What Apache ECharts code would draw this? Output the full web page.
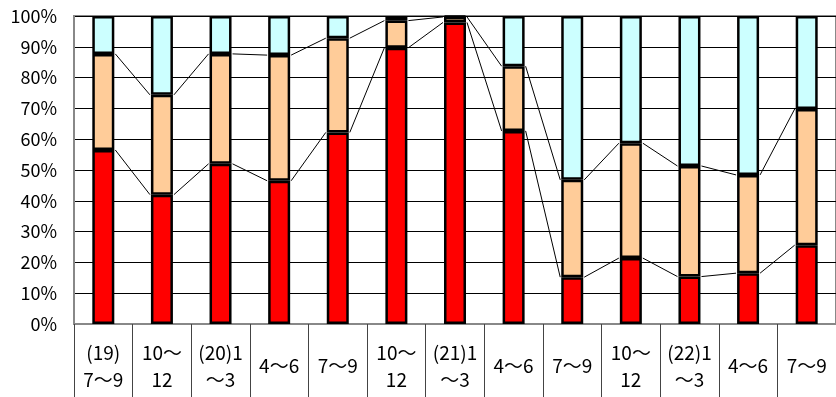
<!DOCTYPE html>
<html>
<head>
<meta charset="utf-8">
<script src="https://cdn.jsdelivr.net/npm/echarts@6/dist/echarts.min.js"></script>
<style>
  html, body { margin: 0; padding: 0; background: #fff; }
  #chart { width: 836px; height: 397px; }
</style>
</head>
<body>
<div id="chart"></div>
<script>
// 期間（カテゴリ）
var categories = ['(19)\n7～9', '10～\n12', '(20)1\n～3', '4～6', '7～9', '10～\n12',
  '(21)1\n～3', '4～6', '7～9', '10～\n12', '(22)1\n～3', '4～6', '7～9'];
// 構成比（%）
var redVals   = [56.5, 42.0, 52.0, 46.5, 62.2, 89.7, 97.9, 62.7, 15.2, 21.4, 15.4, 16.5, 25.6];
var peachVals = [31.2, 32.4, 35.7, 40.8, 30.6, 8.8, 1.8, 21.0, 31.6, 37.3, 35.9, 31.9, 44.2];
var cyanVals  = [12.3, 25.6, 12.3, 12.7, 7.2, 1.5, 0.3, 16.3, 53.2, 41.3, 48.7, 51.6, 30.2];
var yTicks = [0, 10, 20, 30, 40, 50, 60, 70, 80, 90, 100];

var BAR_W = 22;
var HALF = 12;

// 区分線（系列線）用のデータ: [index, 上端i, 上端i+1]
function linkData(tops) {
  var out = [];
  for (var i = 0; i < tops.length - 1; i++) {
    out.push([i, tops[i], tops[i + 1]]);
  }
  return out;
}
var redTops = redVals.slice();
var peachTops = [];
for (var i = 0; i < redVals.length; i++) {
  peachTops.push(redVals[i] + peachVals[i]);
}

function renderLink(params, api) {
  var p1 = api.coord([api.value(0), api.value(1)]);
  var p2 = api.coord([api.value(0) + 1, api.value(2)]);
  return {
    type: 'line',
    shape: { x1: p1[0] + HALF, y1: p1[1], x2: p2[0] - HALF, y2: p2[1] },
    style: { stroke: '#000', lineWidth: 1 }
  };
}

function barSeries(name, data, color) {
  return {
    name: name,
    type: 'bar',
    stack: 'total',
    barWidth: BAR_W,
    data: data,
    itemStyle: { color: color, borderColor: '#000', borderWidth: 2.5 },
    animation: false
  };
}

var myChart = echarts.init(document.getElementById('chart'));

var option = {
  animation: false,
  grid: {
    left: 74,
    top: 16,
    right: -7,
    bottom: 73,
    show: true,
    borderColor: '#888',
    borderWidth: 2
  },
  xAxis: {
    type: 'category',
    data: categories,
    axisLine: { show: true, lineStyle: { color: '#888', width: 2 } },
    axisTick: { show: true, interval: 0, length: 73, lineStyle: { color: '#444', width: 1 } },
    axisLabel: {
      interval: 0,
      color: '#000',
      fontSize: 19,
      lineHeight: 27,
      fontFamily: 'Noto Sans CJK JP',
      verticalAlign: 'middle',
      margin: 42
    }
  },
  yAxis: {
    type: 'value',
    min: yTicks[0],
    max: yTicks[yTicks.length - 1],
    interval: 10,
    axisLine: { show: true, lineStyle: { color: '#888', width: 2 } },
    axisTick: { show: false },
    splitLine: { show: true, lineStyle: { color: '#000', width: 1 } },
    axisLabel: {
      color: '#000',
      fontSize: 18,
      fontFamily: 'Noto Sans CJK JP',
      margin: 17,
      formatter: '{value}%'
    }
  },
  series: [
    barSeries('赤', redVals, '#FF0000'),
    barSeries('橙', peachVals, '#FFCC99'),
    barSeries('水', cyanVals, '#CCFFFF'),
    {
      type: 'custom',
      renderItem: renderLink,
      data: linkData(redTops),
      encode: { x: 0, y: [1, 2] },
      z: 3
    },
    {
      type: 'custom',
      renderItem: renderLink,
      data: linkData(peachTops),
      encode: { x: 0, y: [1, 2] },
      z: 3
    }
  ]
};

myChart.setOption(option);
</script>
</body>
</html>
